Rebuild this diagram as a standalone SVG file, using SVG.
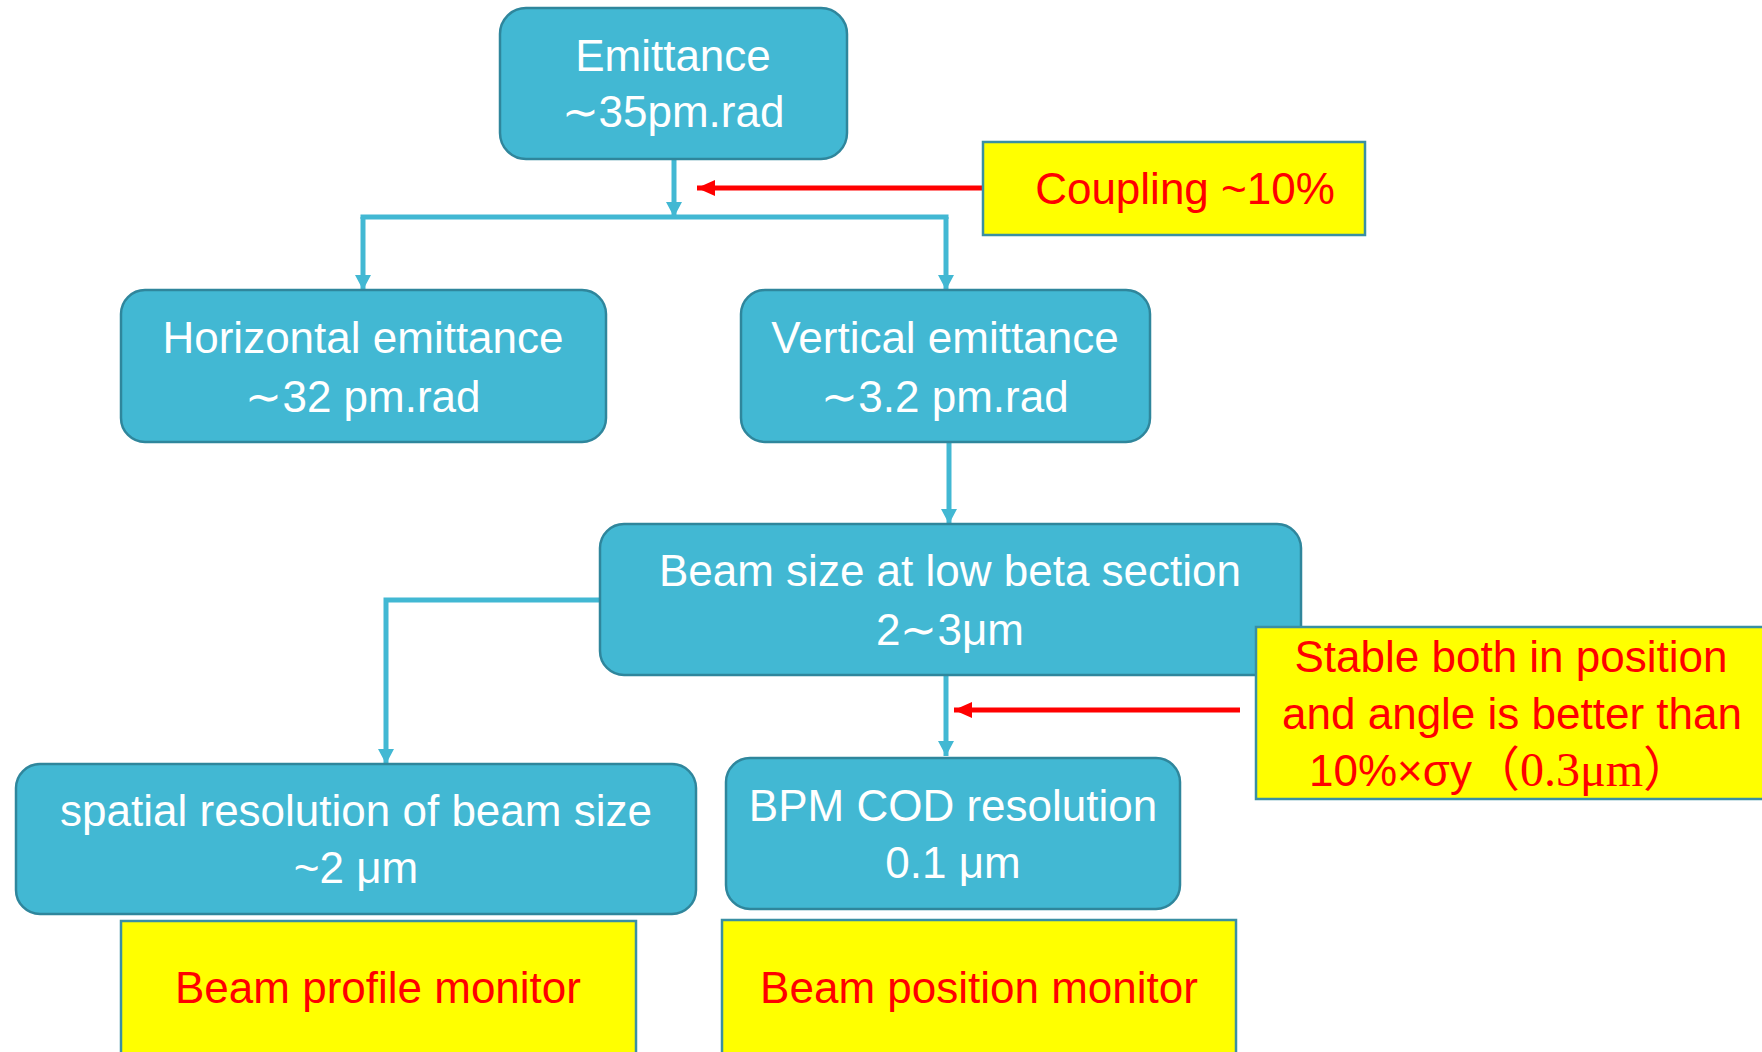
<svg xmlns="http://www.w3.org/2000/svg" width="1762" height="1052" viewBox="0 0 1762 1052">
<style>
.node{fill:#42B8D3;stroke:#2F869C;stroke-width:2.5}
.note{fill:#FFFF00;stroke:#3A8FA3;stroke-width:2.5}
.t{font-family:"Liberation Sans",Arial,sans-serif;font-size:44px;fill:#FFFFFF;text-anchor:middle}
.r{font-family:"Liberation Sans",Arial,sans-serif;font-size:44px;fill:#FF0000;text-anchor:middle}
.c{fill:none;stroke:#42B8D3;stroke-width:5}
.rc{fill:none;stroke:#FF0000;stroke-width:5}
</style>
<defs>
<marker id="ah" markerUnits="userSpaceOnUse" markerWidth="18" markerHeight="18" refX="15" refY="9" orient="auto">
<path d="M0,1 L15,9 L0,17 Z" fill="#42B8D3"/>
</marker>
<marker id="rh" markerUnits="userSpaceOnUse" markerWidth="20" markerHeight="18" refX="18" refY="9" orient="auto">
<path d="M0,1 L18,9 L0,17 Z" fill="#FF0000"/>
</marker>
</defs>
<rect width="1762" height="1052" fill="#FFFFFF"/>
<g id="connectors">
<path class="c" d="M674,159 V217" marker-end="url(#ah)"/>
<path class="c" d="M363,219 V217 H946 V219"/>
<path class="c" d="M363,217 V290" marker-end="url(#ah)"/>
<path class="c" d="M946,217 V290" marker-end="url(#ah)"/>
<path class="c" d="M949,442 V524" marker-end="url(#ah)"/>
<path class="c" d="M600,600 H386 V764" marker-end="url(#ah)"/>
<path class="c" d="M946,675 V756" marker-end="url(#ah)"/>
<path class="rc" d="M983,188 H697" marker-end="url(#rh)"/>
<path class="rc" d="M1240,710 H954" marker-end="url(#rh)"/>
</g>
<g id="emittance">
<rect class="node" x="500" y="8" width="347" height="151" rx="26"/>
<text class="t" x="673" y="71">Emittance</text>
<text class="t" x="673" y="127">∼35pm.rad</text>
</g>
<g id="coupling">
<rect class="note" x="983" y="142" width="382" height="93"/>
<text class="r" x="1185" y="204" font-size="41">Coupling ~10%</text>
</g>
<g id="horizontal">
<rect class="node" x="121" y="290" width="485" height="152" rx="24"/>
<text class="t" x="363" y="353">Horizontal emittance</text>
<text class="t" x="363" y="412">∼32 pm.rad</text>
</g>
<g id="vertical">
<rect class="node" x="741" y="290" width="409" height="152" rx="24"/>
<text class="t" x="945" y="353">Vertical emittance</text>
<text class="t" x="945" y="412">∼3.2 pm.rad</text>
</g>
<g id="beamsize">
<rect class="node" x="600" y="524" width="701" height="151" rx="24"/>
<text class="t" x="950" y="586">Beam size at low beta section</text>
<text class="t" x="950" y="645">2∼3μm</text>
</g>
<g id="stable">
<rect class="note" x="1256" y="627" width="520" height="172"/>
<text class="r" x="1511" y="672">Stable both in position</text>
<text class="r" x="1512" y="729">and angle is better than</text>
<text class="r" x="1500" y="786">10%×σy<tspan font-family="'Liberation Serif','Noto Sans CJK SC',serif" font-size="48">（0.3μm）</tspan></text>
</g>
<g id="spatial">
<rect class="node" x="16" y="764" width="680" height="150" rx="24"/>
<text class="t" x="356" y="826">spatial resolution of beam size</text>
<text class="t" x="356" y="883">~2 μm</text>
</g>
<g id="bpm">
<rect class="node" x="726" y="758" width="454" height="151" rx="24"/>
<text class="t" x="953" y="821">BPM COD resolution</text>
<text class="t" x="953" y="878">0.1 μm</text>
</g>
<g id="profile">
<rect class="note" x="121" y="921" width="515" height="140"/>
<text class="r" x="378" y="1003">Beam profile monitor</text>
</g>
<g id="position">
<rect class="note" x="722" y="920" width="514" height="140"/>
<text class="r" x="979" y="1003">Beam position monitor</text>
</g>
</svg>
